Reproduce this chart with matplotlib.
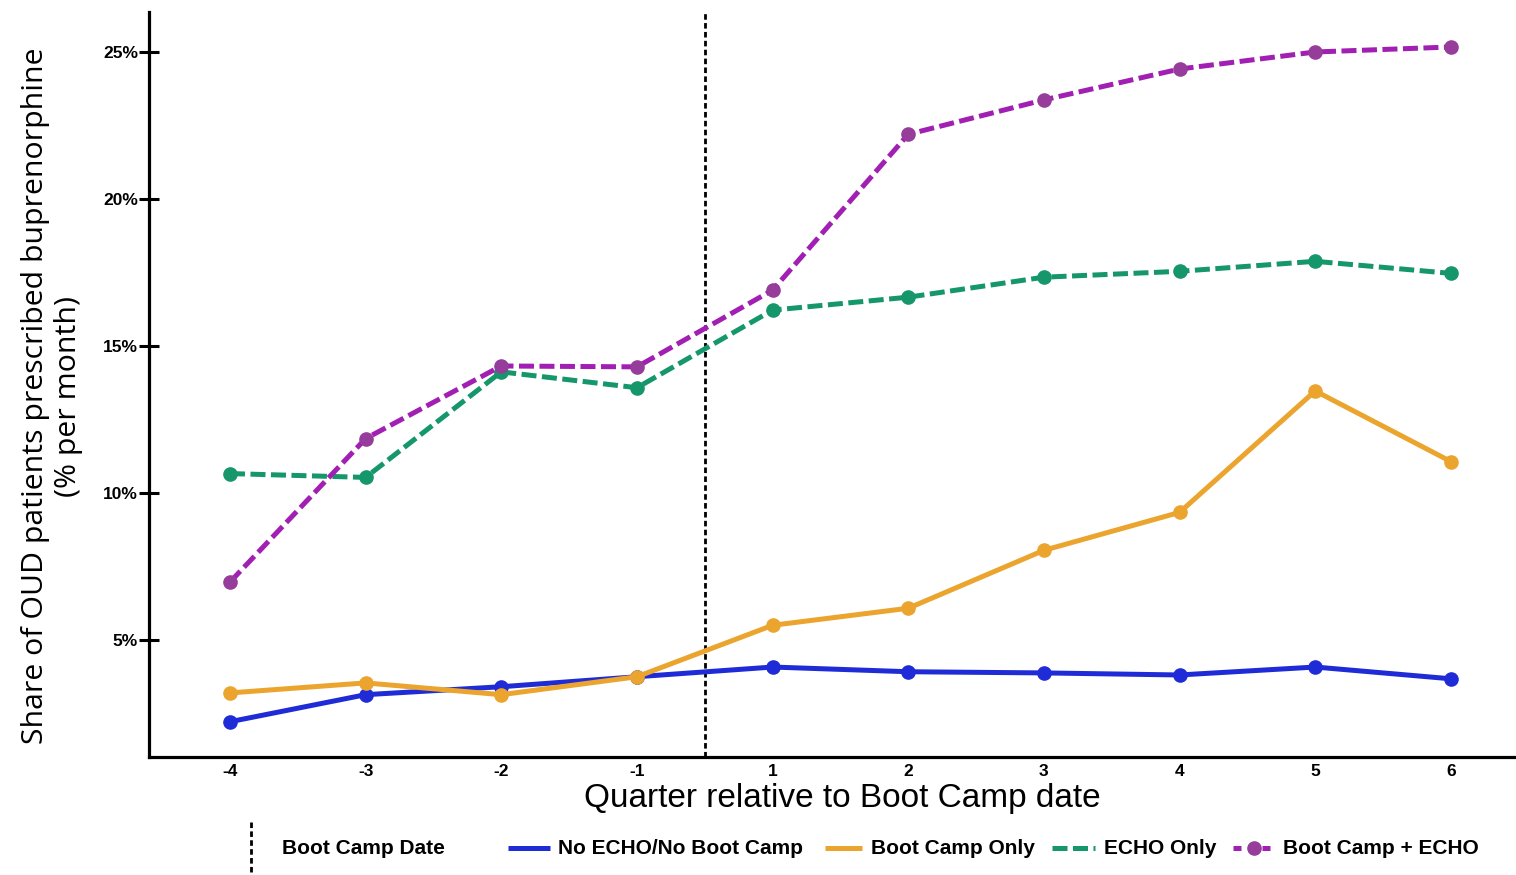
import matplotlib
matplotlib.use("Agg")
import matplotlib.pyplot as plt
from matplotlib.lines import Line2D

plt.rcParams['font.family'] = ['Liberation Sans', 'DejaVu Sans']

# Quarters relative to the Boot Camp date (no quarter 0)
quarters = ["-4", "-3", "-2", "-1", "1", "2", "3", "4", "5", "6"]

# Share of OUD patients prescribed buprenorphine (% per month)
no_echo_no_bootcamp = [2.22, 3.14, 3.41, 3.75, 4.08, 3.92, 3.88, 3.81, 4.08, 3.68]
bootcamp_only = [3.20, 3.54, 3.14, 3.75, 5.50, 6.08, 8.05, 9.34, 13.47, 11.07]
echo_only = [10.66, 10.53, 14.12, 13.58, 16.22, 16.66, 17.34, 17.54, 17.88, 17.47]
bootcamp_echo = [6.97, 11.85, 14.32, 14.29, 16.90, 22.20, 23.37, 24.42, 25.00, 25.17]

series_labels = ["No ECHO/No Boot Camp", "Boot Camp Only", "ECHO Only", "Boot Camp + ECHO"]
boot_camp_label = "Boot Camp Date"
y_ticks = [5, 10, 15, 20, 25]

BLUE = "#1F2BD6"
ORANGE = "#EBA52E"
GREEN = "#16966B"
PURPLE = "#A11FB2"
PURPLE_MK = "#963C9A"

W, H = 1516, 875
fig = plt.figure(figsize=(W / 100, H / 100), dpi=100)
ax = fig.add_axes([149 / W, 1 - 757 / H, 1 - 149 / W, (757 - 12) / H])

x = list(range(len(quarters)))
lw = 3.6
ms = 9.5
ax.plot(x, no_echo_no_bootcamp, color=BLUE, lw=lw, marker="o", ms=ms,
        solid_capstyle="butt", zorder=3)
ax.plot(x, bootcamp_only, color=ORANGE, lw=lw, marker="o", ms=ms,
        solid_capstyle="butt", zorder=3)
ax.plot(x, echo_only, color=GREEN, lw=lw, marker="o", ms=ms,
        dashes=(3, 1.1), zorder=3)
ax.plot(x, bootcamp_echo, color=PURPLE, lw=lw, marker="o", ms=ms,
        mfc=PURPLE_MK, mec=PURPLE_MK, dashes=(3, 1.1), zorder=4)

# Boot Camp date sits between quarter -1 and quarter 1
ax.axvline(3.5, color="black", lw=2.0, dashes=(2, 1.2), zorder=2)

ax.set_xlim(-0.597, 9.48)
ax.set_ylim(1.02, 26.36)
ax.set_xticks(x)
ax.set_xticklabels(quarters)
ax.set_yticks(y_ticks)
ax.set_yticklabels([f"{v}%" for v in y_ticks])

for side in ("top", "right"):
    ax.spines[side].set_visible(False)
for side in ("left", "bottom"):
    ax.spines[side].set_linewidth(2.3)

ax.tick_params(axis="y", direction="inout", length=14, width=2.2, pad=1,
               labelsize=12.5)
ax.tick_params(axis="x", length=0, pad=5, labelsize=12.5)
for lab in ax.get_xticklabels() + ax.get_yticklabels():
    lab.set_fontweight("bold")

fig.text(842 / W, 1 - 798 / H, "Quarter relative to Boot Camp date",
         ha="center", va="center", fontsize=24)
fig.text(52 / W, 1 - 396 / H,
         "Share of OUD patients prescribed buprenorphine\n(% per month)",
         ha="center", va="center", rotation=90, fontsize=21.8,
         linespacing=1.22, family=["Open Sans", "DejaVu Sans"])

# Legend row along the bottom
ly = 1 - 848 / H
def fx(px):
    return px / W

fig.add_artist(Line2D([fx(251), fx(251)], [1 - 822 / H, 0.0], color="black",
                      lw=2.0, dashes=(2, 1.2), transform=fig.transFigure))
fig.text(fx(282), ly, boot_camp_label, ha="left", va="center",
         fontsize=15, fontweight="bold")

handles = [
    (508, 550, 558, BLUE, None, None),
    (825, 862, 871, ORANGE, None, None),
    (1052, 1095, 1104, GREEN, (3, 1.1), None),
    (1233, 1275, 1283, PURPLE, (1.6, 1.3), PURPLE_MK),
]
for (x0, x1, xt, col, dsh, mk), lab in zip(handles, series_labels):
    kw = dict(color=col, lw=lw, transform=fig.transFigure,
              solid_capstyle="butt")
    if dsh is not None:
        kw["dashes"] = dsh
    fig.add_artist(Line2D([fx(x0), fx(x1)], [ly, ly], **kw))
    if mk is not None:
        fig.add_artist(Line2D([fx((x0 + x1) / 2)], [ly], marker="o", ms=ms,
                              color=mk, lw=0, transform=fig.transFigure))
    fig.text(fx(xt), ly, lab, ha="left", va="center", fontsize=15,
             fontweight="bold")

fig.savefig("out.png", dpi=100)
